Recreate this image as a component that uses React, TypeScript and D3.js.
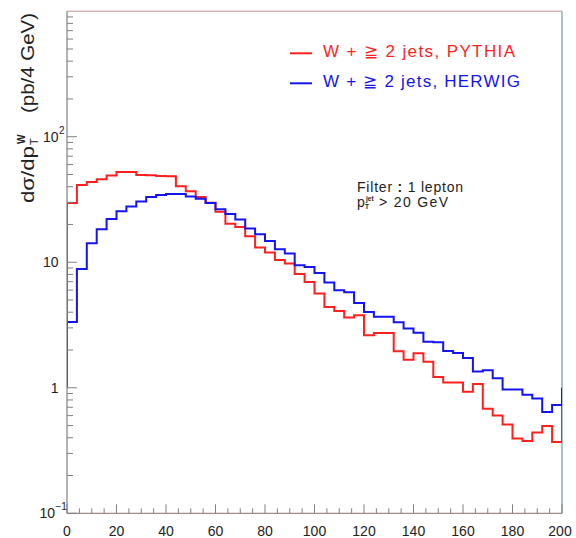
import React from 'react';
import * as d3 from 'd3';

// 4 GeV bins from 0 to 200 GeV, values in pb/4 GeV
const binWidth = 4;
const pythia = [
  29.7, 41.3, 43.6, 45.9, 49.1, 52.4, 52.4, 49.6, 49.4, 48.7,
  48.5, 40.3, 36.7, 33.1, 29.8, 25.2, 20.3, 19.1, 16.1, 13.1,
  11.95, 10.4, 9.76, 8.07, 6.97, 5.63, 4.4, 4.09, 3.63, 3.78,
  2.62, 2.73, 2.73, 1.95, 1.67, 1.88, 1.61, 1.22, 1.1, 1.1,
  0.93, 1.07, 0.68, 0.6, 0.51, 0.394, 0.376, 0.44, 0.495, 0.37
];
const herwig = [
  3.34, 8.84, 14.17, 18.32, 22.13, 25.49, 27.78, 30.45, 33.14, 34.38,
  35.02, 35.0, 33.39, 32.07, 29.69, 26.44, 24.26, 21.89, 18.56, 16.72,
  14.78, 12.69, 11.73, 9.46, 9.17, 8.21, 6.89, 5.98, 5.77, 4.74,
  4.02, 3.68, 3.68, 3.33, 2.96, 2.75, 2.33, 2.3, 1.96, 1.89,
  1.73, 1.35, 1.38, 1.19, 0.97, 0.97, 0.88, 0.82, 0.64, 0.73
];
const baseline = 1; // histogram outline starts and ends at 1

const xTicks = [0, 20, 40, 60, 80, 100, 120, 140, 160, 180, 200];
const yDecades = [
  { v: 0.1, base: '10', exp: '\u22121' },
  { v: 1, base: '1', exp: '' },
  { v: 10, base: '10', exp: '' },
  { v: 100, base: '10', exp: '2' },
];
const legend = [
  { label: 'W + \u2267 2 jets, PYTHIA', color: '#ff1f1f', len: 192 },
  { label: 'W + \u2267 2 jets, HERWIG', color: '#1414f0', len: 197 },
];

const W = 576, H = 538;
const FONT = '"Liberation Sans", Arial, Helvetica, sans-serif';

function histPoints(vals: number[]) {
  const pts: [number, number][] = [[0, baseline]];
  vals.forEach((v, i) => {
    pts.push([i * binWidth, v]);
    pts.push([(i + 1) * binWidth, v]);
  });
  pts.push([vals.length * binWidth, baseline]);
  return pts;
}

export default function App() {
  const x = d3.scaleLinear().domain([0, 200]).range([67, 562]);
  const y = d3.scaleLog().domain([0.1, 1000]).range([513.3, 11.2]);
  const [x0, x1] = x.range();
  const [y0, y1] = y.range();

  const line = d3.line<[number, number]>()
    .x(d => x(d[0]))
    .y(d => y(d[1]));

  const minorY: number[] = [];
  [0.1, 1, 10, 100].forEach(d => {
    for (let k = 2; k <= 9; k++) minorY.push(d * k);
  });
  const minorX = d3.range(0, 201, 5).filter(v => v % 20 !== 0);

  return (
    <svg width={W} height={H} style={{ position: 'absolute', left: 0, top: 0, background: '#fff' }}
      fontFamily={FONT}>
      <defs>
        <clipPath id="plot">
          <rect x={x0} y={y1} width={x1 - x0} height={y0 - y1} />
        </clipPath>
      </defs>

      {/* frame */}
      <line x1={x0} x2={x1} y1={y1} y2={y1} stroke="#c89090" strokeWidth={1} />
      <line x1={x1} x2={x1} y1={y1} y2={y0} stroke="#6f9f9f" strokeWidth={1.2} />

      {/* histograms */}
      <g clipPath="url(#plot)" fill="none" strokeWidth={2}>
        <path d={line(histPoints(pythia)) || ''} stroke="#ff1f1f" />
        <path d={line(histPoints(herwig)) || ''} stroke="#1414f0" />
      </g>

      {/* axes */}
      <line x1={x0} x2={x0} y1={y1} y2={y0} stroke="#808080" strokeWidth={1.2} />
      <line x1={x0} x2={x1} y1={y0} y2={y0} stroke="#a08888" strokeWidth={1.2} />

      {yDecades.map(d => (
        <line key={'ym' + d.v} x1={x0} x2={x0 + 10} y1={y(d.v)} y2={y(d.v)} stroke="#808080" />
      ))}
      {minorY.map(v => (
        <line key={'yn' + v} x1={x0} x2={x0 + 6} y1={y(v)} y2={y(v)} stroke="#808080" />
      ))}
      {xTicks.map(v => (
        <line key={'xm' + v} x1={x(v)} x2={x(v)} y1={y0} y2={y0 - 9} stroke="#808080" />
      ))}
      {minorX.map(v => (
        <line key={'xn' + v} x1={x(v)} x2={x(v)} y1={y0} y2={y0 - 5} stroke="#808080" />
      ))}

      {/* x tick labels */}
      {xTicks.map(v => (
        <text key={'xl' + v} x={x(v) - (v === 200 ? 2 : 0)} y={535.5} fontSize={14} textAnchor="middle" fill="#222">{v}</text>
      ))}

      {/* y tick labels */}
      {yDecades.map(d => {
        const ty = y(d.v);
        const baseEnd = d.exp === '\u22121' ? 55 : 58.5;
        return (
          <g key={'yl' + d.v} fill="#222">
            <text x={baseEnd} y={ty + 5} fontSize={14} textAnchor="end">{d.base}</text>
            {d.exp && (
              <text x={baseEnd + 0.5} y={ty - 3} fontSize={10}>{d.exp}</text>
            )}
          </g>
        );
      })}

      {/* y axis title */}
      <g transform="translate(34,0) rotate(-90)" fill="#222">
        <text x={-203} y={0} fontSize={19} textLength={57} lengthAdjust="spacingAndGlyphs">{'d\u03c3/dp'}</text>
        <text x={-145} y={4} fontSize={11}>T</text>
        <text x={-144} y={-9} fontSize={10} fontWeight="bold">W</text>
        <text x={-13} y={0} fontSize={19} textAnchor="end" textLength={100} lengthAdjust="spacingAndGlyphs">(pb/4 GeV)</text>
      </g>

      {/* legend */}
      {legend.map((d, i) => (
        <g key={d.label}>
          <line x1={290} x2={312} y1={53.3 + i * 30} y2={53.3 + i * 30} stroke={d.color} strokeWidth={2} />
          <text x={323} y={57 + i * 30} fontSize={17} fill={d.color} textLength={d.len} lengthAdjust="spacing">
            {d.label}
          </text>
        </g>
      ))}

      {/* annotation */}
      <g fill="#222">
        <text x={357} y={192} fontSize={14} textLength={106} lengthAdjust="spacing">
          Filter <tspan fontWeight="bold">:</tspan> 1 lepton
        </text>
        <text x={357} y={207} fontSize={14}>p</text>
        <text x={365} y={209} fontSize={6.5} fontWeight="bold">T</text>
        <text x={366} y={201} fontSize={6.5} fontWeight="bold">jet</text>
        <text x={379} y={207} fontSize={14} textLength={69} lengthAdjust="spacing">&gt; 20 GeV</text>
      </g>
    </svg>
  );
}
